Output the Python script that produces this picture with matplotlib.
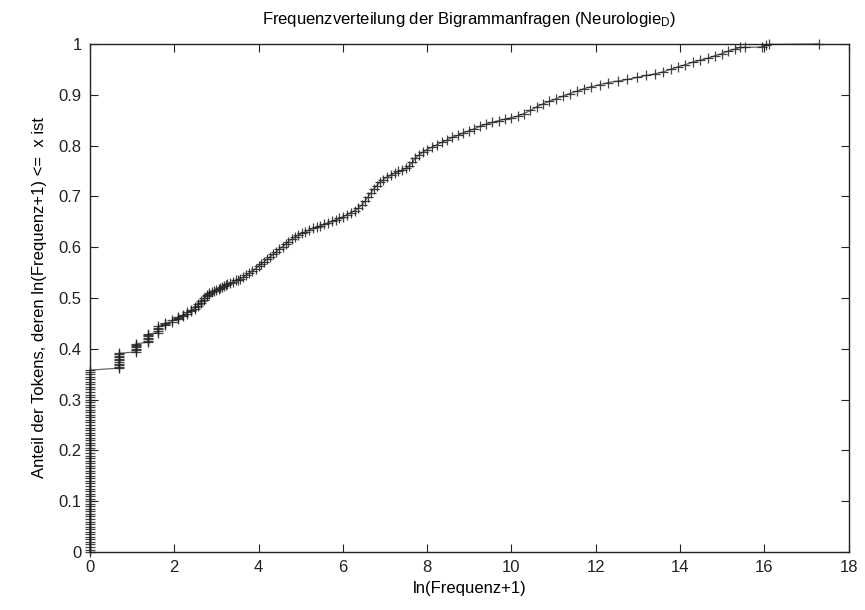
import matplotlib
matplotlib.use("Agg")
import matplotlib.pyplot as plt

plt.rcParams['font.family'] = ['Liberation Sans', 'DejaVu Sans']
plt.rcParams['mathtext.fontset'] = 'custom'
plt.rcParams['mathtext.rm'] = 'Liberation Sans'
plt.rcParams['mathtext.it'] = 'Liberation Sans'

# ln(Frequenz+1) = 0 : densely stacked points from 0 to 0.36
zero_y = [0.000, 0.005, 0.010, 0.015, 0.020, 0.025, 0.030, 0.035, 0.040, 0.045,
          0.050, 0.055, 0.060, 0.065, 0.070, 0.075, 0.080, 0.085, 0.090, 0.095,
          0.100, 0.105, 0.110, 0.115, 0.120, 0.125, 0.130, 0.135, 0.140, 0.145,
          0.150, 0.155, 0.160, 0.165, 0.170, 0.175, 0.180, 0.185, 0.190, 0.195,
          0.200, 0.205, 0.210, 0.215, 0.220, 0.225, 0.230, 0.235, 0.240, 0.245,
          0.250, 0.255, 0.260, 0.265, 0.270, 0.275, 0.280, 0.285, 0.290, 0.295,
          0.300, 0.305, 0.310, 0.315, 0.320, 0.325, 0.330, 0.335, 0.340, 0.345,
          0.350, 0.355, 0.358]
zero_x = [0.0] * len(zero_y)

# low frequencies (discrete steps)
low_x = [0.693, 0.693, 0.693, 0.693, 0.693, 0.693, 0.693, 0.693, 0.693, 0.693, 0.693,
         1.099, 1.099, 1.099, 1.099, 1.099, 1.099, 1.099,
         1.386, 1.386, 1.386, 1.386, 1.386, 1.386, 1.386,
         1.609, 1.609, 1.609, 1.609, 1.609,
         1.792, 1.792, 1.792, 1.946, 1.946, 2.079, 2.079, 2.079, 2.197, 2.197,
         2.303, 2.303, 2.398, 2.398, 2.485, 2.485, 2.565, 2.565, 2.639, 2.639,
         2.708, 2.708, 2.773, 2.773, 2.833, 2.833, 2.890, 2.944, 2.996]
low_y = [0.362, 0.365, 0.368, 0.371, 0.374, 0.377, 0.380, 0.383, 0.386, 0.389, 0.391,
         0.394, 0.397, 0.400, 0.403, 0.405, 0.408, 0.410,
         0.413, 0.416, 0.419, 0.422, 0.425, 0.427, 0.429,
         0.432, 0.435, 0.438, 0.441, 0.444,
         0.446, 0.448, 0.450, 0.453, 0.456, 0.458, 0.460, 0.463, 0.465, 0.467,
         0.469, 0.472, 0.474, 0.476, 0.479, 0.482, 0.485, 0.488, 0.491, 0.494,
         0.497, 0.500, 0.503, 0.506, 0.508, 0.510, 0.512, 0.514, 0.516]

# higher frequencies
high_x = [3.05, 3.09, 3.14, 3.18, 3.22, 3.26, 3.33, 3.40, 3.47, 3.52, 3.56, 3.64,
          3.71, 3.78, 3.85, 3.93,
          4.00, 4.06, 4.13, 4.20, 4.27, 4.35, 4.42, 4.49, 4.57, 4.64, 4.71, 4.79,
          4.86, 4.94, 5.02, 5.11, 5.20, 5.29, 5.38, 5.47, 5.56, 5.65, 5.74, 5.83,
          5.92, 6.01, 6.10, 6.19, 6.28, 6.37, 6.45, 6.52, 6.59, 6.66, 6.73, 6.80,
          6.88, 6.96, 7.05, 7.14, 7.23, 7.32, 7.41, 7.50, 7.58, 7.65, 7.72, 7.80,
          7.90, 8.00, 8.12, 8.24, 8.36, 8.48, 8.60, 8.73, 8.86, 8.99, 9.12, 9.26,
          9.40, 9.55, 9.70, 9.85, 10.00, 10.15, 10.30, 10.45, 10.60, 10.75, 10.90,
          11.06, 11.22, 11.38, 11.55, 11.72, 11.90, 12.10, 12.30, 12.52, 12.75,
          12.98, 13.20, 13.40, 13.60, 13.78, 13.95, 14.12, 14.30, 14.48, 14.66,
          14.84, 15.00, 15.15, 15.30, 15.42, 15.55, 15.95, 16.05, 16.12, 17.30]
high_y = [0.517, 0.519, 0.521, 0.523, 0.525, 0.527, 0.529, 0.532, 0.535, 0.536, 0.538, 0.541,
          0.545, 0.549, 0.553, 0.558,
          0.563, 0.567, 0.571, 0.576, 0.581, 0.586, 0.591, 0.596, 0.601, 0.606, 0.611, 0.616,
          0.620, 0.624, 0.627, 0.630, 0.634, 0.637, 0.640, 0.642, 0.645, 0.648, 0.651, 0.654,
          0.657, 0.660, 0.664, 0.668, 0.672, 0.677, 0.683, 0.690, 0.698, 0.706, 0.714, 0.721,
          0.728, 0.733, 0.738, 0.742, 0.746, 0.749, 0.752, 0.755, 0.760, 0.767, 0.775, 0.781,
          0.787, 0.792, 0.797, 0.802, 0.807, 0.811, 0.816, 0.820, 0.825, 0.829, 0.833, 0.838,
          0.842, 0.846, 0.849, 0.852, 0.855, 0.858, 0.863, 0.869, 0.876, 0.882, 0.887,
          0.892, 0.897, 0.902, 0.907, 0.912, 0.916, 0.920, 0.924, 0.927, 0.930,
          0.934, 0.938, 0.941, 0.945, 0.950, 0.955, 0.959, 0.964, 0.968, 0.972,
          0.977, 0.981, 0.986, 0.990, 0.993, 0.993, 0.994, 0.997, 0.999, 1.000]

xs = zero_x + low_x + high_x
ys = zero_y + low_y + high_y

fig = plt.figure(figsize=(8.65, 6.10), dpi=100)
ax = fig.add_axes([0.104, 0.095, 0.877, 0.833])

ax.plot(xs, ys, '-', color='#666666', linewidth=0.9, clip_on=False, zorder=2)
ax.plot(xs, ys, '+', color='#222222', markersize=7, markeredgewidth=0.9,
        alpha=0.85, clip_on=False, zorder=3)

ax.set_xlim(0, 18)
ax.set_ylim(0, 1)
ax.set_xticks(range(0, 19, 2))
ax.set_yticks([0, 0.1, 0.2, 0.3, 0.4, 0.5, 0.6, 0.7, 0.8, 0.9, 1])
ax.set_yticklabels(['0', '0.1', '0.2', '0.3', '0.4', '0.5', '0.6', '0.7', '0.8', '0.9', '1'])
ax.tick_params(direction='in', length=6, width=0.8, top=True, right=True,
               labelsize=12, pad=6, colors='#222222')
for s in ax.spines.values():
    s.set_linewidth(1.0)
    s.set_color('#222222')

ax.set_title('Frequenzverteilung der Bigrammanfragen (Neurologie$_\\mathrm{D}$)',
             fontsize=12, pad=14)
ax.set_xlabel('ln(Frequenz+1)', fontsize=12, labelpad=4)
ax.set_ylabel('Anteil der Tokens, deren ln(Frequenz+1) <=  x ist', fontsize=12, labelpad=8)

fig.savefig('out.png', dpi=100)
